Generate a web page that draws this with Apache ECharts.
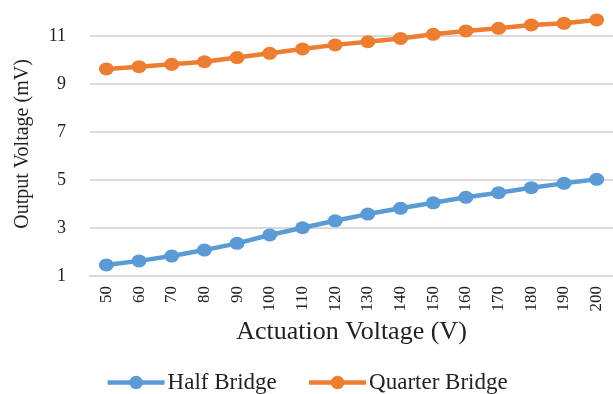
<!DOCTYPE html>
<html>
<head>
<meta charset="utf-8">
<script src="https://cdn.jsdelivr.net/npm/echarts@6/dist/echarts.min.js"></script>
<style>
  html, body { margin: 0; padding: 0; background: #ffffff; }
  #chart { width: 613px; height: 394px; }
</style>
</head>
<body>
<div id="chart"></div>
<script>
// Actuation voltage steps (V)
const voltages = ['50', '60', '70', '80', '90', '100', '110', '120', '130', '140', '150', '160', '170', '180', '190', '200'];

// Measured bridge output (mV)
const halfBridge = [1.46, 1.63, 1.83, 2.08, 2.36, 2.71, 3.01, 3.30, 3.58, 3.82, 4.05, 4.28, 4.47, 4.68, 4.86, 5.03];
const quarterBridge = [9.63, 9.72, 9.82, 9.93, 10.10, 10.28, 10.46, 10.63, 10.76, 10.90, 11.07, 11.21, 11.32, 11.46, 11.53, 11.67];

const seriesNames = ['Half Bridge', 'Quarter Bridge'];
const seriesColors = ['#5B9BD5', '#ED7D31'];

const FONT = '"Liberation Serif", "Times New Roman", serif';

const chart = echarts.init(document.getElementById('chart'), null, { renderer: 'canvas' });

function makeSeries(name, data, color) {
  return {
    name: name,
    type: 'line',
    data: data,
    symbol: 'circle',
    symbolSize: [15, 13],
    showSymbol: true,
    lineStyle: { width: 4.5, color: color },
    itemStyle: { color: color },
    emphasis: { disabled: true },
    animation: false
  };
}

chart.setOption({
  animation: false,
  textStyle: { fontFamily: FONT },
  grid: { left: 90, right: -3, top: 12, bottom: 118, containLabel: false },
  legend: {
    data: seriesNames,
    left: 'center',
    top: 366,
    itemWidth: 57,
    itemHeight: 17,
    itemGap: 30,
    lineStyle: { width: 4.5 },
    textStyle: { fontFamily: FONT, fontSize: 23, color: '#222', padding: [0, 0, 0, -2] }
  },
  xAxis: {
    type: 'category',
    data: voltages,
    boundaryGap: true,
    name: 'Actuation Voltage (V)',
    nameLocation: 'middle',
    nameGap: 40,
    nameTextStyle: { fontFamily: FONT, fontSize: 26, color: '#222' },
    axisLine: { lineStyle: { color: '#D9D9D9', width: 2 } },
    axisTick: { show: false },
    axisLabel: { rotate: 90, margin: 10, fontFamily: FONT, fontSize: 17, color: '#222' },
    splitLine: { show: false }
  },
  yAxis: {
    type: 'value',
    min: 1,
    max: 12,
    interval: 2,
    name: 'Output Voltage (mV)',
    nameLocation: 'middle',
    nameGap: 57,
    nameTextStyle: { fontFamily: FONT, fontSize: 20, color: '#222' },
    axisLine: { show: false },
    axisTick: { show: false },
    axisLabel: { margin: 24, fontFamily: FONT, fontSize: 18, color: '#222', showMaxLabel: false },
    splitLine: { show: true, showMaxLine: false, lineStyle: { color: '#D9D9D9', width: 2 } }
  },
  series: [
    makeSeries(seriesNames[0], halfBridge, seriesColors[0]),
    makeSeries(seriesNames[1], quarterBridge, seriesColors[1])
  ]
});
</script>
</body>
</html>
